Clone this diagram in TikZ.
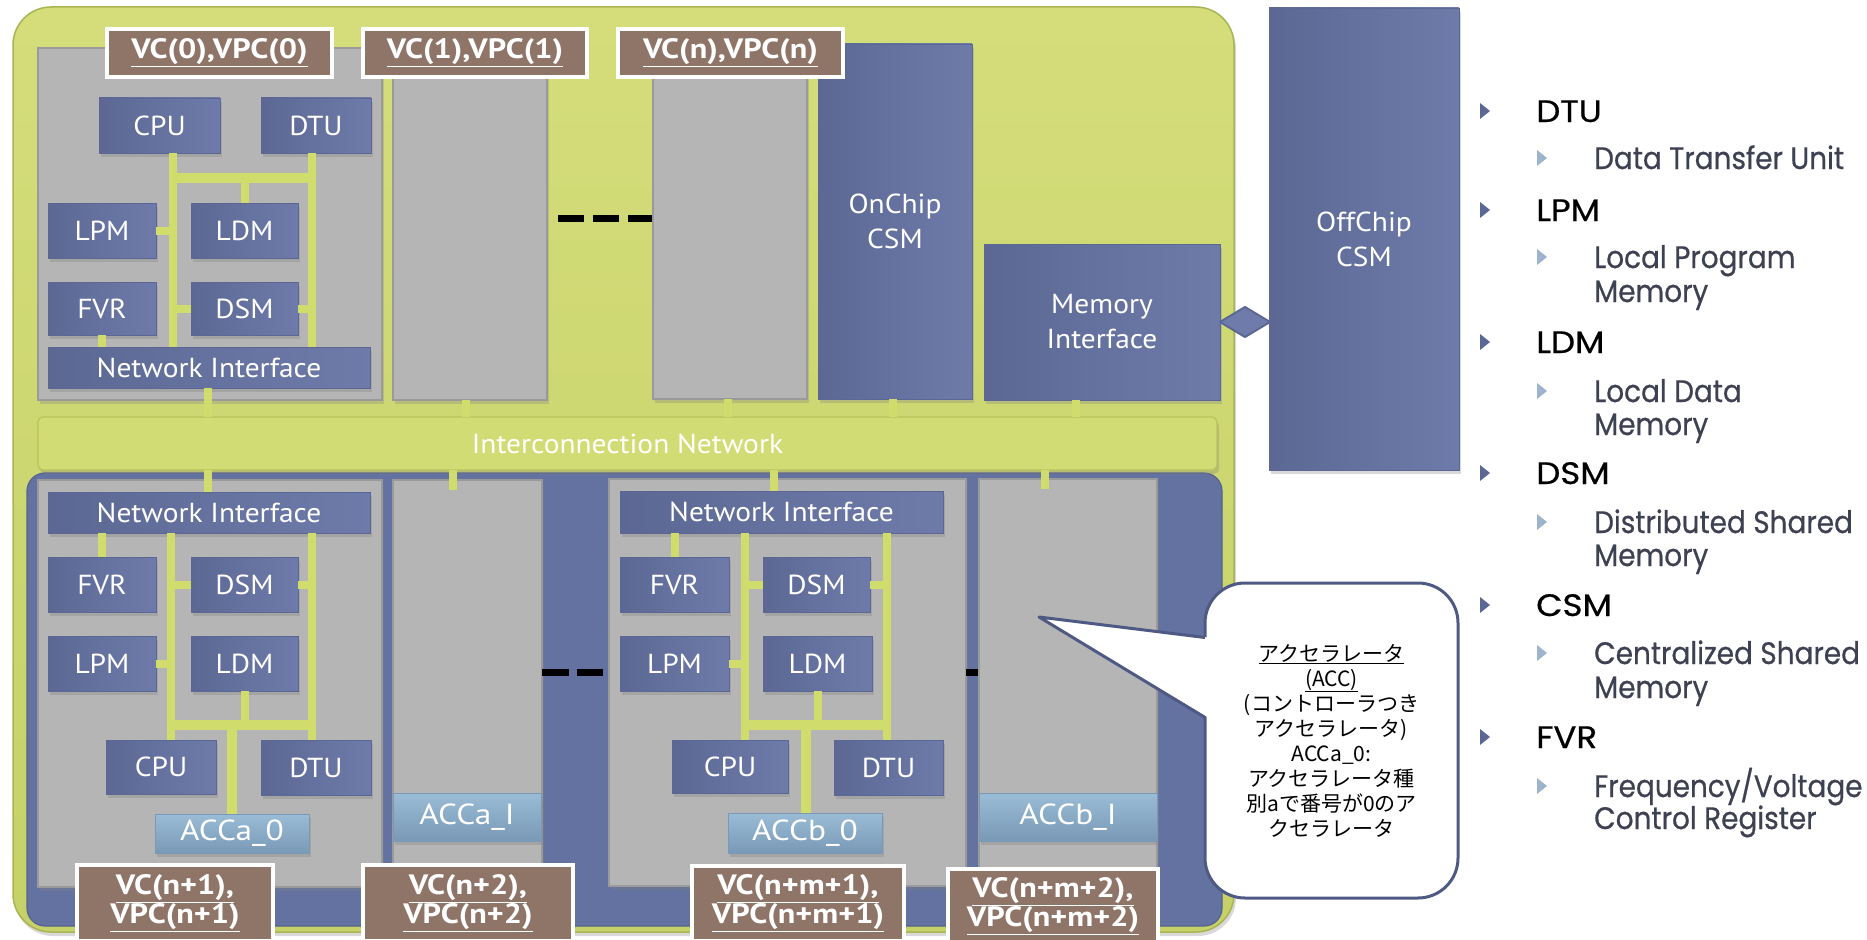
\documentclass[tikz,border=0pt]{standalone}
\usepackage{fontspec}
\setmainfont{PT Sans}
\newfontfamily\unitfont[FakeStretch=1.07]{PT Sans}
\newfontfamily\accfont[FakeStretch=1.15]{PT Sans}
\newfontfamily\labelfont[FakeStretch=1.15]{PT Sans}
\newfontfamily\legmainfont[FakeStretch=1.1,FakeBold=0.6]{Poppins}
\newfontfamily\legsubfont[FakeStretch=0.9,FakeBold=0.6]{Poppins}
\newfontfamily\jpfont{Noto Sans CJK JP}
\usetikzlibrary{shadows}

\definecolor{chipgreenL}{HTML}{D4DD7A}
\definecolor{chipgreen}{HTML}{C6D168}
\definecolor{chipgreenD}{HTML}{A9B453}
\definecolor{netgreen}{HTML}{D2DC74}
\definecolor{netgreenD}{HTML}{B8C35B}
\definecolor{busgreen}{HTML}{D0DC6C}
\definecolor{unitblueD}{HTML}{5C6893}
\definecolor{unitblueL}{HTML}{6E7BAA}
\definecolor{regionblue}{HTML}{6472A1}
\definecolor{regionblueD}{HTML}{56628F}
\definecolor{panelgrey}{HTML}{B5B5B5}
\definecolor{panelgreyD}{HTML}{9A9A9A}
\definecolor{accblueL}{HTML}{9ABCD6}
\definecolor{accblueD}{HTML}{7999B6}
\definecolor{vcbrown}{HTML}{8F7468}
\definecolor{calloutline}{HTML}{4E5A84}
\definecolor{diamondblue}{HTML}{6F7CAB}
\definecolor{legendsub}{HTML}{3E4152}
\definecolor{bulletmain}{HTML}{5B6896}
\definecolor{bulletsub}{HTML}{9DB4CC}

% rectangle node given by its corners: style, name, x1, y1, x2, y2, text
\newcommand\rectnode[7]{%
  \node[#1, minimum width={#5-#3}, minimum height={#6-#4}] (#2)
    at ({(#3+#5)/2},{(#4+#6)/2}) {#7};}
% right-pointing list bullet placed left of a legend line
\newcommand\legbullet[3]{%
  \fill[#1] (#2.base west) ++(#3,-19) -- ++(10,8) -- ++(-10,8) -- cycle;}

\begin{document}
\begin{tikzpicture}[x=1pt,y=-1pt,
  shadowed/.style={drop shadow={shadow xshift=2pt,shadow yshift=-4pt,opacity=.30}},
  unit/.style={shadowed,inner sep=0pt,outer sep=0pt,left color=unitblueD,right color=unitblueL,
    draw=unitblueD,line width=.6pt,text=white,align=center,font=\unitfont\fontsize{27.5}{35}\selectfont},
  panel/.style={shadowed,inner sep=0pt,outer sep=0pt,fill=panelgrey,draw=panelgreyD,line width=1.6pt},
  accunit/.style={shadowed,inner sep=0pt,outer sep=0pt,top color=accblueL,bottom color=accblueD,
    draw=accblueD,line width=.6pt,text=white,font=\accfont\fontsize{29}{34}\selectfont},
  netband/.style={shadowed,inner sep=0pt,outer sep=0pt,fill=netgreen,draw=netgreenD,line width=1.2pt,
    rounded corners=5pt,text=white,font=\unitfont\fontsize{27.5}{34}\selectfont},
  vclabel/.style={inner sep=0pt,outer sep=0pt,fill=vcbrown,draw=white,line width=4pt,text=white,
    align=center,font=\labelfont\bfseries\fontsize{28}{29}\selectfont},
  callbox/.style={inner sep=0pt,outer sep=0pt,fill=white,draw=calloutline,line width=3pt,
    rounded corners=40pt,align=center,font=\jpfont\fontsize{21}{25}\selectfont},
  bus/.style={draw=busgreen,line width=8pt},
  mainbus/.style={draw=busgreen,line width=10pt},
  dotsline/.style={draw=black,line width=7pt},
  legmain/.style={inner sep=0pt,anchor=base west,text=black,font=\legmainfont\fontsize{31}{33}\selectfont},
  legsub/.style={inner sep=0pt,anchor=base west,text=legendsub,font=\legsubfont\fontsize{31}{33}\selectfont},
]
\useasboundingbox (0,0) rectangle (1867,939);
\clip (0,0) rectangle (1867,939);

% chip outline and the accelerator-cluster region
\draw[shadowed,top color=chipgreenL,bottom color=chipgreen,draw=chipgreenD,line width=1.5pt,
  rounded corners=38pt] (13,7) rectangle (1234,932);
\draw[fill=regionblue,draw=regionblueD,line width=1.2pt,rounded corners=18pt]
  (27,473) rectangle (1222,926);

% interconnection network
\rectnode{netband}{net}{38}{417}{1217}{470}{Interconnection Network}

% upper row of cores and shared memory
\rectnode{panel}{p0}{38}{48}{382}{400}{}
\rectnode{panel}{p1}{393}{48}{547}{400}{}
\rectnode{panel}{pn}{653}{48}{807}{399}{}
\rectnode{unit}{onchip}{818}{44}{972}{399}{OnChip\\CSM}
\rectnode{unit}{memif}{984}{244}{1220}{400}{Memory\\Interface}
\rectnode{unit}{offchip}{1269}{8}{1459}{470}{OffChip\\CSM}

\rectnode{unit}{cpu0}{99}{98}{220}{153}{CPU}
\rectnode{unit}{dtu0}{261}{98}{371}{153}{DTU}
\rectnode{unit}{lpm0}{48}{203}{156}{258}{LPM}
\rectnode{unit}{ldm0}{191}{203}{298}{258}{LDM}
\rectnode{unit}{fvr0}{48}{282}{156}{335}{FVR}
\rectnode{unit}{dsm0}{191}{282}{298}{335}{DSM}
\rectnode{unit}{ni0}{48}{347}{370}{388}{Network Interface}

% lower row of cores with accelerators
\rectnode{panel}{q1}{38}{480}{382}{887}{}
\rectnode{panel}{q2}{393}{480}{542}{887}{}
\rectnode{panel}{q3}{609}{479}{966}{886}{}
\rectnode{panel}{q4}{979}{479}{1157}{886}{}

\rectnode{unit}{ni1}{48}{492}{370}{533}{Network Interface}
\rectnode{unit}{fvr1}{48}{557}{156}{612}{FVR}
\rectnode{unit}{dsm1}{191}{557}{298}{612}{DSM}
\rectnode{unit}{lpm1}{48}{636}{156}{691}{LPM}
\rectnode{unit}{ldm1}{191}{636}{298}{691}{LDM}
\rectnode{unit}{cpu1}{106}{740}{216}{794}{CPU}
\rectnode{unit}{dtu1}{261}{740}{371}{795}{DTU}
\rectnode{accunit}{acca0}{155}{814}{309}{853}{ACCa\_0}
\rectnode{accunit}{acca1}{393}{793}{541}{841}{ACCa\_I}

\rectnode{unit}{ni3}{620}{491}{943}{533}{Network Interface}
\rectnode{unit}{fvr3}{620}{557}{729}{612}{FVR}
\rectnode{unit}{dsm3}{763}{557}{870}{612}{DSM}
\rectnode{unit}{lpm3}{620}{636}{729}{691}{LPM}
\rectnode{unit}{ldm3}{763}{636}{872}{691}{LDM}
\rectnode{unit}{cpu3}{672}{740}{788}{793}{CPU}
\rectnode{unit}{dtu3}{834}{740}{943}{795}{DTU}
\rectnode{accunit}{accb0}{728}{813}{882}{853}{ACCb\_0}
\rectnode{accunit}{accb1}{979}{793}{1157}{841}{ACCb\_I}

% local buses, upper core
\coordinate (j0l) at (173,178);
\coordinate (j0r) at (312,178);
\draw[bus] (cpu0.south -| j0l) -- (ni0.north -| j0l);
\draw[bus] (dtu0.south -| j0r) -- (ni0.north -| j0r);
\draw[mainbus] (j0l) -- (j0r);
\draw[bus] (ldm0.north) -- (ldm0.north |- j0l);
\draw[bus] (lpm0.east) -- (lpm0.east -| j0l);
\draw[bus] (dsm0.west) -- (dsm0.west -| j0l);
\draw[bus] (dsm0.east) -- (dsm0.east -| j0r);
\draw[bus] (fvr0.south) -- (fvr0.south |- ni0.north);

% local buses, lower cores
\coordinate (j1l) at (171,725);
\coordinate (j1r) at (312,725);
\coordinate (j1a) at (232,725);
\draw[bus] (ni1.south -| j1l) -- (cpu1.north -| j1l);
\draw[bus] (ni1.south -| j1r) -- (dtu1.north -| j1r);
\draw[mainbus] (j1l) -- (j1r);
\draw[bus] (ldm1.south) -- (ldm1.south |- j1l);
\draw[mainbus] (j1a) -- (acca0.north -| j1a);
\draw[bus] (fvr1.north) -- (fvr1.north |- ni1.south);
\draw[bus] (lpm1.east) -- (lpm1.east -| j1l);
\draw[bus] (dsm1.west) -- (dsm1.west -| j1l);
\draw[bus] (dsm1.east) -- (dsm1.east -| j1r);

\coordinate (j3l) at (745,725);
\coordinate (j3r) at (887,725);
\coordinate (j3a) at (806,725);
\draw[bus] (ni3.south -| j3l) -- (cpu3.north -| j3l);
\draw[bus] (ni3.south -| j3r) -- (dtu3.north -| j3r);
\draw[mainbus] (j3l) -- (j3r);
\draw[bus] (ldm3.south) -- (ldm3.south |- j3l);
\draw[mainbus] (j3a) -- (accb0.north -| j3a);
\draw[bus] (fvr3.north) -- (fvr3.north |- ni3.south);
\draw[bus] (lpm3.east) -- (lpm3.east -| j3l);
\draw[bus] (dsm3.west) -- (dsm3.west -| j3l);
\draw[bus] (dsm3.east) -- (dsm3.east -| j3r);

% links to the interconnection network
\draw[bus] (ni0.south -| 208,0) -- (net.north -| 208,0);
\draw[bus] (p1.south -| 466,0) -- (net.north -| 466,0);
\draw[bus] (pn.south -| 728,0) -- (net.north -| 728,0);
\draw[bus] (onchip.south -| 893,0) -- (net.north -| 893,0);
\draw[bus] (memif.south -| 1076,0) -- (net.north -| 1076,0);
\draw[bus] (net.south -| 208,0) -- (ni1.north -| 208,0);
\draw[bus] (net.south -| 453,0) -- (q2.north -| 453,0) -- ++(0,10);
\draw[bus] (net.south -| 774,0) -- (ni3.north -| 774,0);
\draw[bus] (net.south -| 1045,0) -- (q4.north -| 1045,0) -- ++(0,10);

% memory interface to off-chip memory
\draw[fill=diamondblue,draw=unitblueD,line width=2pt,line join=round]
  (memif.east) -- ++(25,-15) -- ++(25,15) -- ++(-25,15) -- cycle;

% "more cores" marks
\draw[dotsline,dash pattern=on 26pt off 9pt] (558,218) -- (652,218);
\draw[dotsline,dash pattern=on 27pt off 8pt] (542,672) -- (603,672);
\draw[dotsline] (966,672) -- (978,672);

% virtual core labels
\rectnode{vclabel}{vc0}{107}{29}{332}{77}{\underline{VC(0),VPC(0)}}
\rectnode{vclabel}{vc1}{363}{29}{587}{77}{\underline{VC(1),VPC(1)}}
\rectnode{vclabel}{vcn}{618}{29}{843}{77}{\underline{VC(n),VPC(n)}}
\rectnode{vclabel}{vcn1}{77}{865}{273}{941}{\underline{VC(n+1),}\\\underline{VPC(n+1)}}
\rectnode{vclabel}{vcn2}{363}{865}{573}{941}{\underline{VC(n+2),}\\\underline{VPC(n+2)}}
\rectnode{vclabel}{vcnm1}{692}{866}{904}{941}{\underline{VC(n+m+1),}\\\underline{VPC(n+m+1)}}
\rectnode{vclabel}{vcnm2}{948}{869}{1158}{943}{\underline{VC(n+m+2),}\\\underline{VPC(n+m+2)}}

% accelerator callout
\rectnode{callbox}{call}{1205}{583}{1458}{898}{%
  \underline{アクセラレータ}\\\underline{(ACC)}\\(コントローラつき\\アクセラレータ)\\ACCa\_0:\\%
  アクセラレータ種\\別aで番号が0のア\\クセラレータ}
\coordinate (calltip) at (1039,617);
\fill[white] (calltip) -- ([xshift=3pt,yshift=103pt]call.west) -- ([xshift=3pt,yshift=23pt]call.west) -- cycle;
\draw[calloutline,line width=3pt,line join=round]
  ([yshift=103pt]call.west) -- (calltip) -- ([yshift=23pt]call.west);

% glossary
\node[legmain] (gdtu) at (1536,122) {DTU};
\node[legsub] (sdtu) at (1594,169) {Data Transfer Unit};
\node[legmain] (glpm) at (1536,221) {LPM};
\node[legsub] (slpma) at (1594,268) {Local Program};
\node[legsub] (slpmb) at (1594,302) {Memory};
\node[legmain] (gldm) at (1536,353) {LDM};
\node[legsub] (sldma) at (1594,402) {Local Data};
\node[legsub] (sldmb) at (1594,435) {Memory};
\node[legmain] (gdsm) at (1536,484) {DSM};
\node[legsub] (sdsma) at (1594,533) {Distributed Shared};
\node[legsub] (sdsmb) at (1594,566) {Memory};
\node[legmain] (gcsm) at (1536,616) {CSM};
\node[legsub] (scsma) at (1594,664) {Centralized Shared};
\node[legsub] (scsmb) at (1594,698) {Memory};
\node[legmain] (gfvr) at (1536,748) {FVR};
\node[legsub] (sfvra) at (1594,797) {Frequency/Voltage};
\node[legsub] (sfvrb) at (1594,829) {Control Register};

\legbullet{bulletmain}{gdtu}{-56}
\legbullet{bulletmain}{glpm}{-56}
\legbullet{bulletmain}{gldm}{-56}
\legbullet{bulletmain}{gdsm}{-56}
\legbullet{bulletmain}{gcsm}{-56}
\legbullet{bulletmain}{gfvr}{-56}
\legbullet{bulletsub}{sdtu}{-57}
\legbullet{bulletsub}{slpma}{-57}
\legbullet{bulletsub}{sldma}{-57}
\legbullet{bulletsub}{sdsma}{-57}
\legbullet{bulletsub}{scsma}{-57}
\legbullet{bulletsub}{sfvra}{-57}
\end{tikzpicture}
\end{document}
